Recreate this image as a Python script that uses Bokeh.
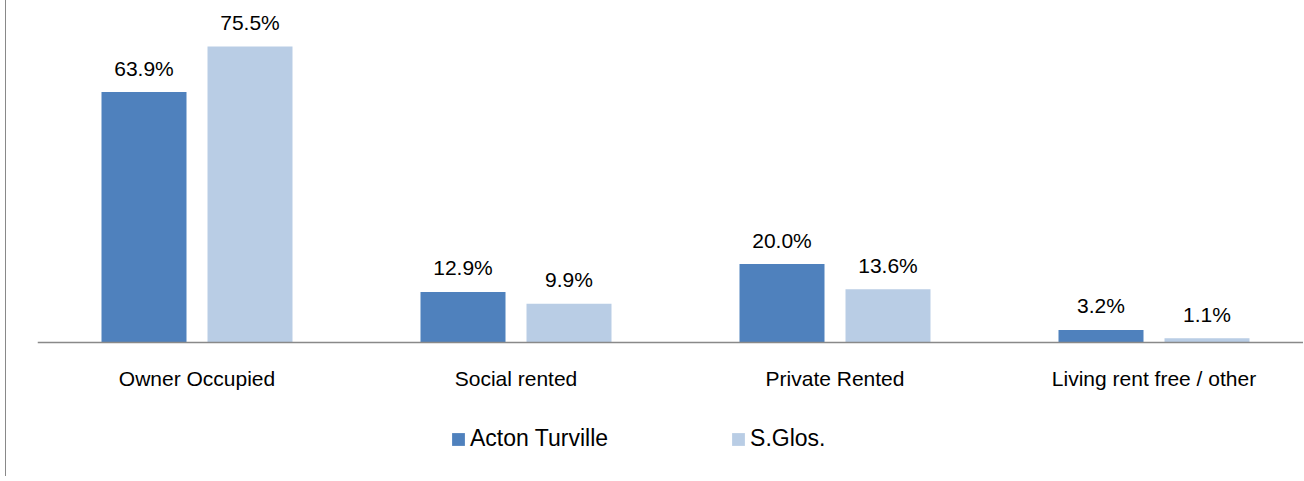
from bokeh.plotting import figure
from bokeh.models import ColumnDataSource, Range1d, FixedTicker, Legend, LegendItem
from bokeh.transform import dodge
from bokeh.core.properties import value
from bokeh.embed import file_html
from bokeh.resources import INLINE

categories = ["Owner Occupied", "Social rented", "Private Rented", "Living rent free / other"]
acton = [63.9, 12.9, 20.0, 3.2]
sglos = [75.5, 9.9, 13.6, 1.1]
series_names = ["Acton Turville", "S.Glos."]
colors = ["#4F81BD", "#B9CDE5"]

xpos = [i + 0.5 for i in range(len(categories))]
src = ColumnDataSource(dict(
    x=xpos, acton=acton, sglos=sglos,
    acton_lbl=[f"{v:.1f}%" for v in acton],
    sglos_lbl=[f"{v:.1f}%" for v in sglos],
))

FONT = "Liberation Sans"
PX = 3.92  # pixels per percent

p = figure(width=1298, height=476, output_backend="svg", toolbar_location=None,
           x_range=Range1d(0, 1267 / 319.0),
           y_range=Range1d(-(476 - 342) / PX, 342 / PX),
           min_border_left=31, min_border_right=0, min_border_top=0, min_border_bottom=0)
p.styles = {"margin-left": "5px", "border-left": "1px solid #898989"}
p.outline_line_color = None
p.grid.visible = False
p.yaxis.visible = False
p.background_fill_color = "white"
p.border_fill_color = "white"

bw = 85 / 319.0
off = 53 / 319.0
r1 = p.vbar(x=dodge("x", -off, range=p.x_range), top="acton", width=bw, source=src,
            fill_color=colors[0], line_color=None)
r2 = p.vbar(x=dodge("x", off, range=p.x_range), top="sglos", width=bw, source=src,
            fill_color=colors[1], line_color=None)

p.text(x=dodge("x", -off, range=p.x_range), y="acton", text="acton_lbl", source=src,
       text_align="center", text_baseline="alphabetic", y_offset=-24,
       text_font=value(FONT), text_font_size="21px", text_color="#000000")
p.text(x=dodge("x", off, range=p.x_range), y="sglos", text="sglos_lbl", source=src,
       text_align="center", text_baseline="alphabetic", y_offset=-24,
       text_font=value(FONT), text_font_size="21px", text_color="#000000")

ax = p.xaxis[0]
ax.fixed_location = 0
ax.ticker = FixedTicker(ticks=xpos)
ax.major_label_overrides = {x: c for x, c in zip(xpos, categories)}
ax.major_tick_line_color = None
ax.minor_tick_line_color = None
ax.major_tick_out = 0
ax.major_tick_in = 0
ax.axis_line_color = "#898989"
ax.axis_line_width = 1.5
ax.major_label_text_font = FONT
ax.major_label_text_font_size = "21px"
ax.major_label_text_color = "#000000"
ax.major_label_standoff = 24

legend = Legend(items=[LegendItem(label=series_names[0], renderers=[r1]),
                       LegendItem(label=series_names[1], renderers=[r2])],
                orientation="horizontal", location=(413, 24),
                padding=0, margin=0, spacing=122, label_standoff=4,
                glyph_width=16, glyph_height=16,
                label_text_font=FONT, label_text_font_size="23px", label_text_color="#000000",
                border_line_color=None, background_fill_alpha=0)
p.add_layout(legend, "center")

open("out.html", "w").write(file_html(p, INLINE))
